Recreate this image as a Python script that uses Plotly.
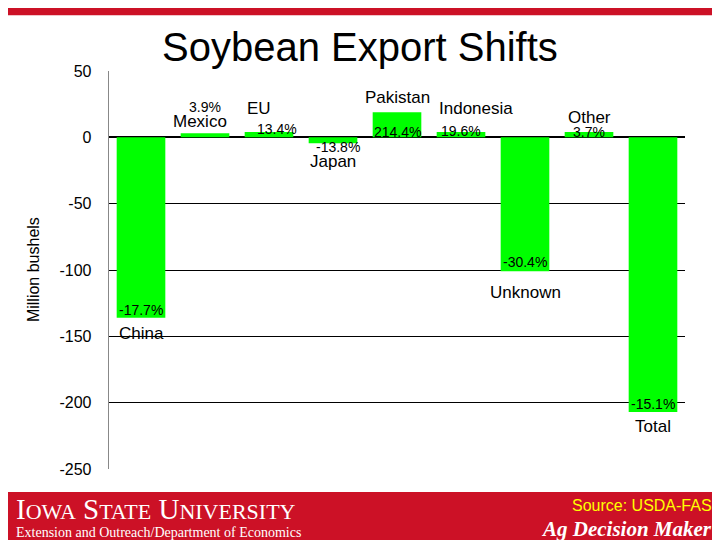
import plotly.graph_objects as go

countries = ["China", "Mexico", "EU", "Japan", "Pakistan", "Indonesia", "Unknown", "Other", "Total"]
values = [-136, 3, 4, -4.5, 19, 4, -101, 4, -207]
pcts = ["-17.7%", "3.9%", "13.4%", "-13.8%", "214.4%", "19.6%", "-30.4%", "3.7%", "-15.1%"]
yticks = [50, 0, -50, -100, -150, -200, -250]
yticklabels = ["50", "0", "-50", "-100", "-150", "-200", "-250"]

fig = go.Figure(go.Bar(x=countries, y=values, marker=dict(color="#00ff00", line=dict(width=0)),
                       width=0.76, hoverinfo="skip"))

pos = {
    "China": (-148, 0, -130, 0),
    "Mexico": (12, -5, 23, 0),
    "EU": (22, -10, 6, 8),
    "Japan": (-18, 0, -7, 5),
    "Pakistan": (30, 0, 4, 0),
    "Indonesia": (22, 15, 5, 0),
    "Unknown": (-117, 0, -94, 0),
    "Other": (15, 0, 4, 0),
    "Total": (-218, 0, -201, 0),
}
ann = []
for c, p in zip(countries, pcts):
    ny, nx, py, px = pos[c]
    ann.append(dict(x=c, y=ny, text=c, showarrow=False, xshift=nx, font=dict(size=17, color="black")))
    ann.append(dict(x=c, y=py, text=p, showarrow=False, xshift=px, font=dict(size=14, color="black")))
ann += [
    dict(xref="paper", yref="paper", x=0.436, y=1.0, yanchor="bottom", text="Soybean Export Shifts",
         showarrow=False, font=dict(size=40, color="black")),
    dict(xref="paper", yref="paper", x=-0.15, y=0.5, text="Million bushels", textangle=-90,
         showarrow=False, font=dict(size=16, color="black")),
    dict(xref="paper", yref="paper", x=-0.165, y=-0.055, xanchor="left", yanchor="top",
         text="I<span style='font-size:22px'>OWA</span> S<span style='font-size:22px'>TATE</span> U<span style='font-size:22px'>NIVERSITY</span>",
         showarrow=False, font=dict(size=29, color="white", family="Liberation Serif")),
    dict(xref="paper", yref="paper", x=-0.165, y=-0.135, xanchor="left", yanchor="top",
         text="Extension and Outreach/Department of Economics", showarrow=False,
         font=dict(size=14, color="white", family="Liberation Serif")),
    dict(xref="paper", yref="paper", x=1.05, y=-0.065, xanchor="right", yanchor="top",
         text="Source: USDA-FAS", showarrow=False, font=dict(size=16, color="#ffff00", family="Liberation Sans")),
    dict(xref="paper", yref="paper", x=1.05, y=-0.115, xanchor="right", yanchor="top",
         text="<b><i>Ag Decision Maker</i></b>", showarrow=False,
         font=dict(size=21, color="white", family="Liberation Serif")),
]
fig.update_layout(
    width=712, height=532, margin=dict(l=101, r=35, t=63, b=71),
    paper_bgcolor="white", plot_bgcolor="white", showlegend=False, bargap=0.25,
    font=dict(family="Liberation Sans", color="black"),
    xaxis=dict(showticklabels=False, showgrid=False, zeroline=False, showline=False),
    yaxis=dict(range=[-250, 50], tickmode="array", tickvals=yticks,
               ticktext=[t + "   " for t in yticklabels], showgrid=True, gridcolor="black", gridwidth=1,
               zeroline=True, zerolinecolor="black", showline=True, linecolor="#888",
               tickfont=dict(size=16), ticks=""),
    annotations=ann,
    shapes=[
        dict(type="rect", xref="paper", yref="paper", x0=-0.2, x1=1.08, y0=-0.2, y1=-0.058,
             fillcolor="#cc1126", line=dict(width=0), layer="below"),
        dict(type="rect", xref="paper", yref="paper", x0=-0.2, x1=1.08, y0=1.14, y1=1.2,
             fillcolor="#cc1126", line=dict(width=0), layer="below"),
    ],
)
fig.write_html("out.html")
